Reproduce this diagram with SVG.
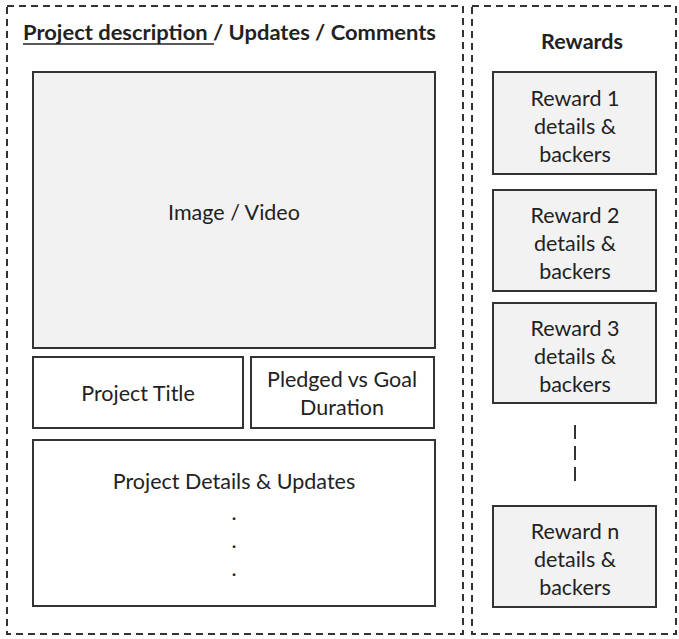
<svg xmlns="http://www.w3.org/2000/svg" width="679" height="639" viewBox="0 0 679 639">
<style>
.frame{fill:none;stroke:#333;stroke-width:2;stroke-dasharray:7,5}
.box{stroke:#333;stroke-width:2}
.g{fill:#f2f2f2}
.w{fill:#fff}
text{font-family:Lato,"Liberation Sans",sans-serif;font-size:21.5px;fill:#222;text-anchor:middle}
.b{font-weight:bold}
</style>
<rect width="679" height="639" fill="#fff"/>
<g id="left-panel">
<rect class="frame" x="7" y="6" width="456" height="628"/>
<text class="b" x="23" y="40" style="text-anchor:start" textLength="413" lengthAdjust="spacingAndGlyphs">Project description / Updates / Comments</text>
<line x1="23" y1="44" x2="214" y2="44" stroke="#222" stroke-width="1.5"/>
</g>
<g id="right-panel">
<rect class="frame" x="472" y="6" width="204" height="628"/>
<text class="b" x="582" y="49">Rewards</text>
</g>
<g id="image-video">
<rect class="box g" x="33" y="72" width="402" height="276"/>
<text x="234" y="220">Image / Video</text>
</g>
<g id="project-title">
<rect class="box w" x="33" y="357" width="210" height="71"/>
<text x="138" y="401">Project Title</text>
</g>
<g id="pledged">
<rect class="box w" x="251" y="357" width="183" height="71"/>
<text x="342" y="387">Pledged vs Goal</text>
<text x="342" y="415">Duration</text>
</g>
<g id="project-details">
<rect class="box w" x="33" y="440" width="402" height="166"/>
<text x="234" y="489">Project Details &amp; Updates</text>
<text x="234" y="520">.</text>
<text x="234" y="548">.</text>
<text x="234" y="576">.</text>
</g>
<g id="reward-1">
<rect class="box g" x="493" y="72" width="163" height="102"/>
<text x="575" y="106">Reward 1</text>
<text x="575" y="134">details &amp;</text>
<text x="575" y="162">backers</text>
</g>
<g id="reward-2">
<rect class="box g" x="493" y="190" width="163" height="101"/>
<text x="575" y="223">Reward 2</text>
<text x="575" y="251">details &amp;</text>
<text x="575" y="279">backers</text>
</g>
<g id="reward-3">
<rect class="box g" x="493" y="303" width="163" height="100"/>
<text x="575" y="336">Reward 3</text>
<text x="575" y="364">details &amp;</text>
<text x="575" y="392">backers</text>
</g>
<g id="reward-n">
<rect class="box g" x="493" y="506" width="163" height="101"/>
<text x="575" y="539">Reward n</text>
<text x="575" y="567">details &amp;</text>
<text x="575" y="595">backers</text>
</g>
<g id="connectors">
<line x1="575" y1="425" x2="575" y2="487" stroke="#333" stroke-width="2" stroke-dasharray="14,7"/>
</g>
</svg>
